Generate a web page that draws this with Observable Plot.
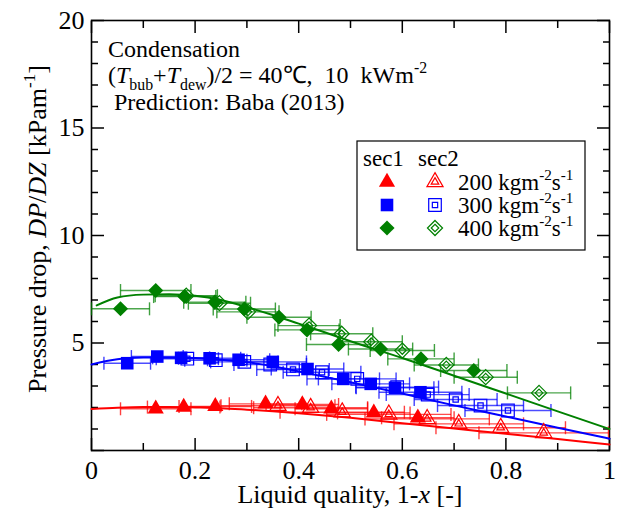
<!DOCTYPE html>
<html><head><meta charset="utf-8">
<script src="https://cdn.jsdelivr.net/npm/d3@7"></script>
<script src="https://cdn.jsdelivr.net/npm/@observablehq/plot@0.6"></script>
<style>
body{margin:0;background:#fff}
#chart{width:617px;height:513px}
</style>
</head><body><div id="chart"></div>
<script>
// ---- axis ticks ----
const xMajor = [0, 0.2, 0.4, 0.6, 0.8, 1];
const xMinor = [0.1, 0.3, 0.5, 0.7, 0.9];
const yMajor = [0, 5, 10, 15, 20];
const yMinor = [1,2,3,4,6,7,8,9,11,12,13,14,16,17,18,19];
const yTickLabels = [5, 10, 15, 20];

// ---- series: mass flux 200 kg m-2 s-1 (red) ----
const g200sec1X = [0.124,0.178,0.239,0.336,0.407,0.463,0.545,0.630];
const g200sec1Y = [1.94,2.02,2.05,2.17,2.14,1.94,1.75,1.52];
const g200sec1E = [0.068,0.07,0.07,0.07,0.07,0.07,0.07,0.07];
const g200sec2X = [0.360,0.423,0.484,0.574,0.648,0.709,0.790,0.873];
const g200sec2Y = [2.08,1.99,1.78,1.68,1.47,1.24,1.06,0.82];
const g200sec2E = [0.11,0.11,0.12,0.12,0.12,0.125,0.125,0.125];
// ---- 300 (blue) ----
const g300sec1X = [0.069,0.127,0.173,0.228,0.284,0.350,0.417,0.486,0.539,0.586,0.635];
const g300sec1Y = [4.06,4.37,4.31,4.29,4.22,4.12,3.79,3.33,3.10,2.92,2.71];
const g300sec1E = [0.045,0.05,0.055,0.06,0.06,0.065,0.07,0.07,0.075,0.075,0.08];
const g300sec2X = [0.185,0.240,0.295,0.345,0.389,0.445,0.513,0.590,0.649,0.703,0.751,0.804];
const g300sec2Y = [4.27,4.20,4.12,4.00,3.77,3.64,3.33,2.95,2.60,2.37,2.09,1.86];
const g300sec2E = [0.06,0.06,0.065,0.07,0.07,0.075,0.075,0.08,0.08,0.08,0.083,0.083];
// ---- 400 (green) ----
const g400sec1X = [0.056,0.124,0.180,0.238,0.295,0.362,0.416,0.477,0.558,0.636,0.738];
const g400sec1Y = [6.59,7.44,7.16,6.90,6.58,6.20,5.61,4.93,4.72,4.26,3.72];
const g400sec1E = [0.056,0.068,0.06,0.06,0.06,0.062,0.062,0.062,0.062,0.064,0.064];
const g400sec2X = [0.183,0.247,0.302,0.420,0.483,0.540,0.600,0.685,0.761,0.864];
const g400sec2Y = [7.20,6.85,6.45,5.81,5.43,5.06,4.65,3.98,3.41,2.68];
const g400sec2E = [0.06,0.06,0.06,0.06,0.06,0.06,0.062,0.062,0.061,0.061];

// ---- prediction: Baba (2013) ----
const predX    = [0,0.05,0.1,0.15,0.2,0.25,0.3,0.35,0.4,0.45,0.5,0.6,0.7,0.8,0.9,1.0];
const pred200Y = [1.93,1.99,2.02,2.02,2.00,1.97,1.90,1.82,1.73,1.63,1.52,1.27,1.02,0.78,0.53,0.28];
const pred300Y = [4.00,4.24,4.32,4.33,4.30,4.22,4.10,3.92,3.68,3.43,3.17,2.65,2.10,1.58,1.06,0.55];
const pred400X = [0.01,0.05,0.1,0.15,0.2,0.25,0.3,0.35,0.4,0.45,0.5,0.6,0.7,0.8,0.9,1.0];
const pred400Y = [6.75,7.12,7.25,7.27,7.20,7.00,6.67,6.30,5.90,5.50,5.08,4.30,3.48,2.65,1.82,1.00];

// ---- texts ----
const massFluxLabels = ["200","300","400"];
const seriesColors = ["#ff0000","#0000ff","#008000"];
const legendHeads = ["sec1","sec2"];
const annotationLines = [
  [["Condensation",""]],
  [["(",""],["T","i"],["bub","sub"],["+",""],["T","i"],["dew","sub"],[")/2 = 40\u2103,  10  kWm",""],["-2","sup"]],
  [[" Prediction: Baba (2013)",""]]
];
const xLabel = [["Liquid quality, 1-",""],["x","i"],[" [-]",""]];
const yLabel = [["Pressure drop, ",""],["DP","i"],["/",""],["DZ","i"],[" [kPam",""],["-1","sup"],["]",""]];
const unitSegs = [[" kgm",""],["-2","sup"],["s",""],["-1","sup"]];

// ---- build tables ----
const markerSpec = [
  {symbol:"triangle", r:6.0, rin:2.8},
  {symbol:"square",   r:7.1, rin:3.0},
  {symbol:"diamond2", r:6.8, rin:3.4}
];
const raw = [
  [g200sec1X,g200sec1Y,g200sec1E,g200sec2X,g200sec2Y,g200sec2E,predX,pred200Y],
  [g300sec1X,g300sec1Y,g300sec1E,g300sec2X,g300sec2Y,g300sec2E,predX,pred300Y],
  [g400sec1X,g400sec1Y,g400sec1E,g400sec2X,g400sec2Y,g400sec2E,pred400X,pred400Y]
];
const toRows = (xs, ys, es, k, sec) => xs.map((x,i)=>({x, y:ys[i], err:es[i], k, sec}));
const sec1Rows = raw.flatMap((r,k)=>toRows(r[0],r[1],r[2],k,1));
const sec2Rows = raw.flatMap((r,k)=>toRows(r[3],r[4],r[5],k,2));
const allRows = [...sec1Rows, ...sec2Rows];
const capRows = allRows.flatMap(d=>[{x:d.x-d.err, y:d.y, k:d.k},{x:d.x+d.err, y:d.y, k:d.k}]);
const predRows = raw.flatMap((r,k)=>r[6].map((x,i)=>({x, y:r[7][i], k})));

const capSymbol = {draw(ctx, size){const h=Math.sqrt(size/Math.PI); ctx.moveTo(0,-h); ctx.lineTo(0,h);}};
const col = d => seriesColors[d.k];
const FF = "'Liberation Serif','Times New Roman',Times,serif";

const marks = [
  Plot.frame({strokeWidth:1.6}),
  // tick marks (inward)
  Plot.axisX({anchor:"bottom", ticks:xMajor, tickSize:-12, fill:"none", label:null, strokeWidth:1.5}),
  Plot.axisX({anchor:"bottom", ticks:xMinor, tickSize:-7, fill:"none", label:null, strokeWidth:1.5}),
  Plot.axisX({anchor:"top", ticks:xMajor, tickSize:-12, fill:"none", label:null, strokeWidth:1.5}),
  Plot.axisX({anchor:"top", ticks:xMinor, tickSize:-7, fill:"none", label:null, strokeWidth:1.5}),
  Plot.axisY({anchor:"left", ticks:yMajor, tickSize:-13, fill:"none", label:null, strokeWidth:1.5}),
  Plot.axisY({anchor:"left", ticks:yMinor, tickSize:-7, fill:"none", label:null, strokeWidth:1.5}),
  Plot.axisY({anchor:"right", ticks:yMajor, tickSize:-13, fill:"none", label:null, strokeWidth:1.5}),
  Plot.axisY({anchor:"right", ticks:yMinor, tickSize:-7, fill:"none", label:null, strokeWidth:1.5}),
  // tick labels
  Plot.axisX({anchor:"bottom", ticks:xMajor, tickSize:0, tickPadding:10, tickFormat:d=>String(d), label:null, fontFamily:FF}),
  Plot.axisY({anchor:"left", ticks:yTickLabels, tickSize:0, tickPadding:7, tickFormat:d=>String(d), label:null, fontFamily:FF}),
  // error bars
  Plot.link(allRows, {x1:d=>d.x-d.err, x2:d=>d.x+d.err, y1:"y", y2:"y", stroke:col, strokeWidth:1.4, strokeOpacity:0.7}),
  Plot.dot(capRows, {x:"x", y:"y", symbol:capSymbol, r:6.5, fill:"none", stroke:col, strokeWidth:1.4, strokeOpacity:0.75}),
  // prediction lines
  Plot.line(predRows, {x:"x", y:"y", z:"k", stroke:col, strokeWidth:2, curve:"monotone-x"})
];
markerSpec.forEach((m,k)=>{
  marks.push(Plot.dot(sec2Rows.filter(d=>d.k===k), {x:"x", y:"y", symbol:m.symbol, r:m.r, fill:"none", stroke:seriesColors[k], strokeWidth:1.2}));
  marks.push(Plot.dot(sec2Rows.filter(d=>d.k===k), {x:"x", y:"y", symbol:m.symbol, r:m.rin, fill:"none", stroke:seriesColors[k], strokeWidth:1.2}));
  marks.push(Plot.dot(sec1Rows.filter(d=>d.k===k), {x:"x", y:"y", symbol:m.symbol, r:m.r, fill:seriesColors[k], stroke:"none"}));
});

const chart = Plot.plot({
  width:617, height:513,
  marginLeft:91, marginRight:8, marginTop:20, marginBottom:63,
  x:{domain:[0,1]}, y:{domain:[0,20]},
  style:{fontFamily:FF, fontSize:"26px", color:"#000", background:"#fff", overflow:"visible"},
  marks
});
document.getElementById("chart").append(chart);

// ---- rich text helper ----
function rich(textSel, segs, fs){
  let cur = 0;
  for (const [t, st] of segs){
    const target = st==="sub" ? fs*0.28 : st==="sup" ? -fs*0.42 : 0;
    const ts = textSel.append("tspan").text(t).attr("dy", target-cur);
    cur = target;
    if (st==="sub"||st==="sup") ts.attr("font-size", fs*0.66);
    if (st==="i") ts.attr("font-style","italic");
  }
}
const svg = d3.select(chart);
const ov = svg.append("g").attr("font-family", FF).attr("fill","#000").attr("text-anchor","start");

// annotation lines
const annoX = [108,108,108], annoY = [57,83,110];
annotationLines.forEach((segs,i)=>{
  rich(ov.append("text").attr("x",annoX[i]).attr("y",annoY[i]).attr("font-size",24), segs, 24);
});
// axis titles
rich(ov.append("text").attr("x",350).attr("y",503).attr("text-anchor","middle").attr("font-size",26), xLabel, 26);
rich(ov.append("g").attr("transform","translate(46,229) rotate(-90)").append("text").attr("text-anchor","middle").attr("font-size",26), yLabel, 26);

// legend
const lg = ov.append("g");
lg.append("rect").attr("x",357).attr("y",141).attr("width",228).attr("height",109).attr("fill","#fff").attr("stroke","#000").attr("stroke-width",1.2);
lg.append("text").attr("x",363).attr("y",166).attr("font-size",23).text(legendHeads[0]);
lg.append("text").attr("x",418).attr("y",166).attr("font-size",23).text(legendHeads[1]);
const rowY = [182,205,228];
markerSpec.forEach((m,k)=>{
  const sym = d3.symbol().type(m.symbol==="triangle"?d3.symbolTriangle:m.symbol==="square"?d3.symbolSquare:d3.symbolDiamond2);
  lg.append("path").attr("transform",`translate(387,${rowY[k]})`).attr("d",sym.size(Math.PI*m.r*m.r)()).attr("fill",seriesColors[k]);
  lg.append("path").attr("transform",`translate(435,${rowY[k]})`).attr("d",sym.size(Math.PI*m.r*m.r)()).attr("fill","none").attr("stroke",seriesColors[k]).attr("stroke-width",1.2);
  lg.append("path").attr("transform",`translate(435,${rowY[k]})`).attr("d",sym.size(Math.PI*m.rin*m.rin)()).attr("fill","none").attr("stroke",seriesColors[k]).attr("stroke-width",1.2);
  rich(lg.append("text").attr("x",458).attr("y",rowY[k]+8).attr("font-size",23), [[massFluxLabels[k],""],...unitSegs], 23);
});
svg.selectAll("text").attr("font-family", FF);
</script>
</body></html>
